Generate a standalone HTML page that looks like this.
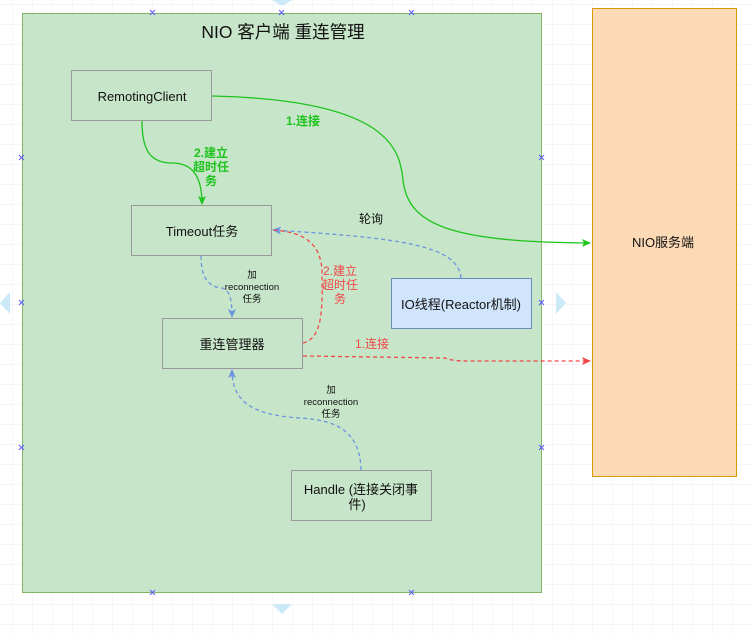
<!DOCTYPE html>
<html><head><meta charset="utf-8"><style>
html,body{margin:0;padding:0;background:#fff}
svg{display:block}
text{font-family:"Liberation Sans","Noto Sans CJK SC",sans-serif}
</style></head><body>
<svg width="752" height="635" xmlns="http://www.w3.org/2000/svg">
<defs>
<pattern id="g" width="20" height="20" patternUnits="userSpaceOnUse" x="12" y="4">
<path d="M20 0H0V20" fill="none" stroke="#ececec" stroke-width="1"/>
</pattern>
<marker id="ag" markerWidth="10" markerHeight="10" refX="8" refY="5" orient="auto" markerUnits="userSpaceOnUse"><path d="M0,1L9,5L0,9L2,5z" fill="#1ec31e"/></marker>
<marker id="ab" markerWidth="10" markerHeight="10" refX="8" refY="5" orient="auto" markerUnits="userSpaceOnUse"><path d="M0,1L9,5L0,9L2,5z" fill="#6d95e0"/></marker>
<marker id="ar" markerWidth="10" markerHeight="10" refX="8" refY="5" orient="auto" markerUnits="userSpaceOnUse"><path d="M0,1L9,5L0,9L2,5z" fill="#f04848"/></marker>
</defs>
<rect width="752" height="635" fill="url(#g)"/>
<g fill="#cbe9f7">
<path d="M10,292L0,303L10,314z"/><path d="M556,292L566,303L556,314z"/>
<path d="M272,0L292,0L282,6z"/><path d="M272,604L292,604L282,614z"/>
</g>
<rect x="22.5" y="13.5" width="519" height="579" fill="#c7e5c8" stroke="#82b366"/>
<rect x="592.5" y="8.5" width="144" height="468" fill="#fddab6" stroke="#d79b00"/>
<g stroke="#5a5aff" stroke-width="1">
<path d="M150,10l5,5m0-5l-5,5M279,10l5,5m0-5l-5,5M409,10l5,5m0-5l-5,5M150,590l5,5m0-5l-5,5M409,590l5,5m0-5l-5,5M19,155l5,5m0-5l-5,5M19,300l5,5m0-5l-5,5M19,445l5,5m0-5l-5,5M539,155l5,5m0-5l-5,5M539,300l5,5m0-5l-5,5M539,445l5,5m0-5l-5,5"/>
</g>
<text x="283" y="38" font-size="17.5" text-anchor="middle" fill="#111">NIO 客户端 重连管理</text>
<text x="663" y="247" font-size="13" text-anchor="middle" fill="#111">NIO服务端</text>
<g stroke="#999" fill="#c7e5c8">
<rect x="71.5" y="70.5" width="140" height="50"/>
<rect x="131.5" y="205.5" width="140" height="50"/>
<rect x="162.5" y="318.5" width="140" height="50"/>
<rect x="291.5" y="470.5" width="140" height="50"/>
</g>
<rect x="391.5" y="278.5" width="140" height="50" fill="#d0e4fb" stroke="#6c8ebf"/>
<g font-size="13" text-anchor="middle" fill="#111">
<text x="142" y="101">RemotingClient</text>
<text x="202" y="236">Timeout任务</text>
<text x="232" y="349">重连管理器</text>
<text x="461" y="309">IO线程(Reactor机制)</text>
<text x="361" y="494">Handle (连接关闭事</text>
<text x="357" y="509">件)</text>
</g>
<g fill="none" stroke-width="1.3">
<path d="M212,96 C390,100 400,150 403,180 C408,225 450,242 590,243" stroke="#1ec31e" marker-end="url(#ag)"/>
<path d="M142,121 C142,150 150,163 172,163 C195,163 202,180 202,204" stroke="#1ec31e" marker-end="url(#ag)"/>
<path d="M461,278 C458,245 400,238 273,230" stroke="#6d95e0" stroke-dasharray="4,3" marker-end="url(#ab)"/>
<path d="M201,256 C201,280 210,287 222,288 C230,290 232,300 232,317" stroke="#6d95e0" stroke-dasharray="4,3" marker-end="url(#ab)"/>
<path d="M303,343 C325,338 322,300 322,270 C320,240 300,232 273,230" stroke="#f04848" stroke-dasharray="4,3"/>
<path d="M303,356 L445,358 C450,360 455,361 470,361 L590,361" stroke="#f04848" stroke-dasharray="4,3" marker-end="url(#ar)"/>
<path d="M361,470 C360,430 335,420 300,418 C250,415 232,400 232,370" stroke="#6d95e0" stroke-dasharray="4,3" marker-end="url(#ab)"/>
</g>
<g font-size="12" font-weight="bold" fill="#1ec31e" text-anchor="middle">
<text x="303" y="125">1.连接</text>
<text x="211" y="157">2.建立</text><text x="211" y="171">超时任</text><text x="211" y="185">务</text>
</g>
<g font-size="12" fill="#f04848" text-anchor="middle">
<text x="340" y="275">2.建立</text><text x="340" y="289">超时任</text><text x="340" y="303">务</text>
<text x="372" y="348">1.连接</text>
</g>
<g font-size="12" fill="#111" text-anchor="middle"><text x="371" y="223">轮询</text></g>
<g font-size="9.5" fill="#111" text-anchor="middle">
<text x="252" y="278">加</text><text x="252" y="290">reconnection</text><text x="252" y="302">任务</text>
<text x="331" y="393">加</text><text x="331" y="405">reconnection</text><text x="331" y="417">任务</text>
</g>
</svg>
</body></html>
